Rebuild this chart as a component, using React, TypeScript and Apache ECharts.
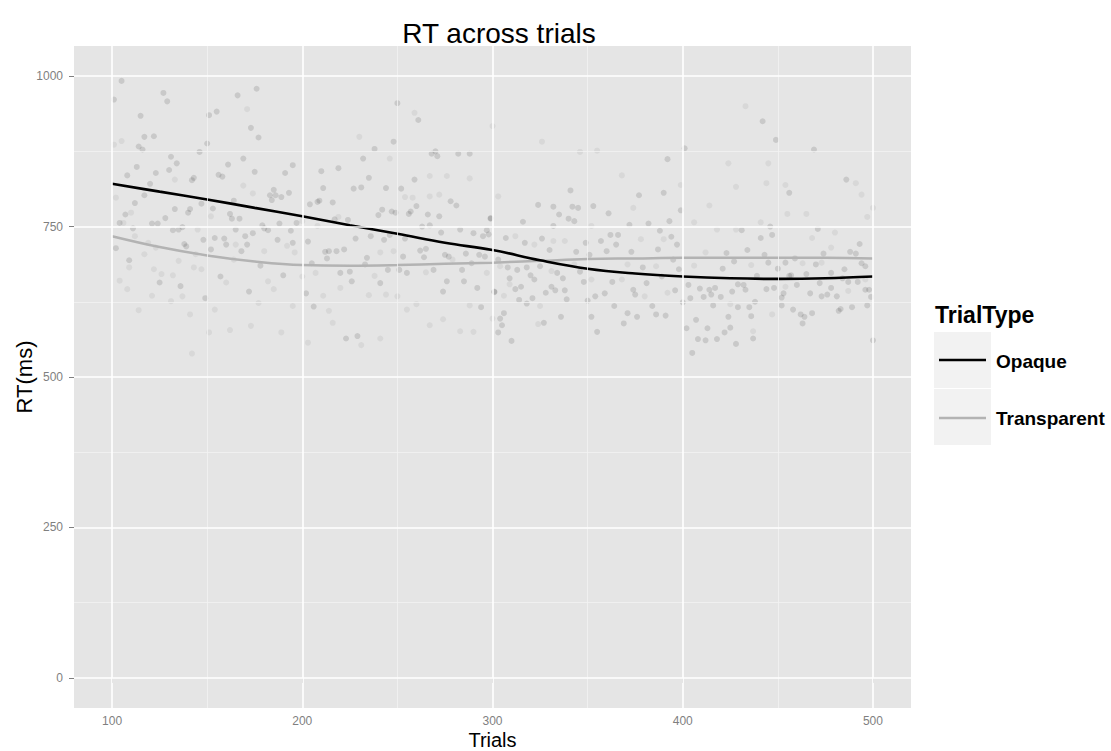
import React, { useEffect, useRef } from "react";
import * as echarts from "echarts";

const xTicks = [100, 200, 300, 400, 500];
const xMinor = [150, 250, 350, 450];
const yTicks = [0, 250, 500, 750, 1000];
const yMinor = [125, 375, 625, 875];

const smoothTrials = [100, 125, 150, 175, 200, 225, 250, 275, 300, 325, 350, 375, 400, 425, 450, 475, 500];
const opaqueSmooth = [821, 808, 795, 781, 767, 752, 738, 723, 711, 694, 680, 672, 667, 664, 663, 664, 667];
const transparentSmooth = [734, 716, 702, 692, 686, 685, 686, 688, 690, 693, 696, 697, 698, 698, 698, 698, 697];

const opaquePoints = [
  [101,961],[105,992],[127,972],[129,958],[115,934],[117,899],[122,900],[114,883],[116,878],[131,866],[134,855],[113,849],[108,835],[123,839],[130,844],[120,821],[117,802],[112,789],[107,770],[104,756],[111,747],[121,755],[124,755],[128,764],[132,744],[135,745],[137,749],[133,779],[140,773],[141,779],[142,827],[143,831],[146,874],[150,888],[151,935],[155,941],[166,968],[176,979],[173,914],[177,898],[169,863],[161,853],[156,836],[158,833],[175,841],[191,839],[195,852],[185,811],[183,802],[186,802],[184,794],[189,799],[193,806],[147,788],[153,780],[162,771],[163,763],[167,763],[164,793],[165,745],[179,752],[180,747],[182,744],[188,755],[197,756],[194,743],[195,723],[187,728],[174,739],[170,734],[171,720],[168,709],[160,720],[159,730],[154,731],[152,712],[148,728],[138,721],[139,717],[102,714],[109,694],[125,657],[136,651],[149,631],[157,667],[172,642],[190,669],[178,685],
  [250,955],[261,927],[248,891],[238,879],[232,863],[219,847],[210,842],[235,831],[227,813],[231,815],[211,814],[244,814],[252,813],[259,828],[268,871],[270,875],[271,867],[282,871],[288,871],[208,791],[209,793],[204,787],[216,790],[240,769],[242,778],[247,775],[249,773],[256,771],[257,775],[260,784],[266,770],[272,767],[278,792],[281,785],[263,750],[267,752],[273,740],[283,745],[290,739],[295,734],[297,744],[298,737],[299,763],[217,762],[224,761],[228,730],[236,734],[243,728],[246,736],[254,730],[203,725],[212,708],[214,709],[213,697],[218,709],[222,712],[234,698],[253,700],[262,710],[265,713],[264,699],[275,703],[277,700],[286,705],[293,703],[296,700],[205,689],[220,673],[225,675],[233,687],[245,678],[251,678],[255,673],[269,678],[284,678],[289,689],[226,659],[241,656],[276,659],[285,659],[274,642],[292,648],[301,641],[202,639],[206,617],[294,616],[223,564],[229,568],
  [401,880],[392,862],[390,806],[377,802],[399,777],[341,810],[324,786],[332,783],[342,783],[345,781],[353,784],[361,772],[335,770],[340,763],[343,759],[316,758],[332,751],[372,753],[382,755],[393,759],[388,743],[394,733],[397,720],[307,731],[317,723],[326,730],[349,723],[357,726],[362,736],[366,736],[365,720],[330,711],[344,708],[351,703],[360,709],[373,708],[387,712],[395,695],[303,695],[325,684],[308,682],[313,678],[318,682],[334,673],[346,675],[379,682],[398,679],[309,664],[320,669],[322,662],[337,664],[348,658],[363,658],[381,656],[389,667],[403,653],[301,642],[312,646],[315,650],[328,640],[331,650],[333,644],[338,644],[321,631],[318,622],[314,628],[339,629],[350,627],[354,634],[359,639],[374,645],[375,637],[396,644],[400,624],[364,618],[384,618],[386,604],[391,602],[371,606],[376,600],[352,600],[336,600],[306,606],[304,597],[305,586],[303,574],[310,560],[327,590],[369,589],[355,575],[402,581],[299,764],
  [442,925],[449,894],[469,878],[486,828],[456,806],[471,746],[431,744],[441,731],[446,750],[447,736],[493,721],[434,711],[423,706],[443,703],[488,708],[491,705],[427,692],[445,690],[454,690],[459,697],[474,705],[470,687],[494,689],[421,680],[450,680],[478,673],[485,679],[439,668],[456,668],[457,669],[465,671],[496,684],[409,647],[414,645],[417,648],[429,654],[432,653],[433,645],[444,646],[448,648],[453,639],[460,653],[467,639],[472,656],[473,634],[476,637],[478,648],[481,634],[484,664],[487,658],[492,658],[496,645],[498,645],[499,633],[404,631],[411,633],[415,637],[420,633],[426,642],[438,625],[452,632],[416,619],[429,616],[435,616],[436,601],[424,600],[452,619],[458,612],[462,604],[464,600],[468,606],[482,610],[483,613],[489,616],[497,619],[463,589],[407,595],[413,581],[425,582],[422,574],[408,563],[412,561],[418,563],[428,555],[437,564],[405,540],[500,561]
];

const transparentPoints = [
  [101,886],[105,892],[102,798],[110,773],[112,734],[119,723],[108,646],[104,660],[114,611],[121,635],[131,626],[141,604],[142,539],[151,574],[154,612],[162,578],[173,585],[189,574],[177,623],[185,646],[182,659],[195,618],[196,707],[192,718],[180,709],[165,720],[143,682],[147,679],[137,634],[126,671],[122,679],[132,669],[117,704],[123,715],[109,682],[106,756],[171,945],[133,828],[169,818],[174,805],[145,745],[152,767],[160,657],[164,695],[135,693],[144,704],
  [230,899],[246,863],[259,939],[288,830],[267,834],[276,834],[272,803],[267,800],[254,799],[258,798],[219,766],[208,751],[200,759],[248,709],[241,707],[250,634],[244,637],[235,636],[220,648],[211,635],[214,610],[216,590],[203,557],[231,553],[241,564],[267,586],[274,596],[283,576],[290,575],[288,619],[260,621],[255,612],[297,673],[300,597],[200,667],[207,673],[265,674],[279,695],[238,668],
  [300,917],[326,891],[346,874],[355,876],[368,835],[303,800],[399,819],[374,781],[352,751],[378,729],[390,729],[338,726],[322,720],[312,734],[332,726],[304,684],[331,676],[343,687],[371,687],[386,684],[309,654],[306,635],[325,618],[324,588],[368,662],[380,634],[392,640],[352,662],
  [433,950],[424,855],[445,855],[428,816],[444,822],[454,819],[491,822],[494,803],[414,785],[465,771],[455,771],[441,757],[406,757],[428,745],[468,731],[500,781],[497,766],[480,740],[418,745],[412,707],[436,686],[463,689],[478,715],[406,685],[454,650],[487,643],[496,662],[447,604],[437,576],[425,621],[473,690]
];

const FONT = "'Liberation Sans', Arial, Helvetica, sans-serif";

export default function App() {
  const ref = useRef<HTMLDivElement>(null);
  useEffect(() => {
    if (!ref.current) return;
    const chart = echarts.init(ref.current, null, { renderer: "svg" });
    const major = { color: "#ffffff", width: 1.6, type: "solid" };
    const minor = { color: "#f2f2f2", width: 0.8, type: "solid" };
    const gridLines = [
      ...xMinor.map((v) => ({ xAxis: v, lineStyle: minor })),
      ...yMinor.map((v) => ({ yAxis: v, lineStyle: minor })),
      ...xTicks.map((v) => ({ xAxis: v, lineStyle: major })),
      ...yTicks.map((v) => ({ yAxis: v, lineStyle: major })),
    ];
    chart.setOption({
      animation: false,
      backgroundColor: "#ffffff",
      textStyle: { fontFamily: FONT },
      title: {
        text: "RT across trials",
        left: 494,
        top: 14,
        textAlign: "center",
        textStyle: { fontFamily: FONT, fontSize: 28, fontWeight: "normal", color: "#000" },
      },
      grid: {
        left: 74,
        top: 46,
        right: 200,
        bottom: 43,
        containLabel: false,
        outerBoundsMode: "none",
        show: true,
        backgroundColor: "#e5e5e5",
        borderWidth: 0,
      },
      xAxis: {
        type: "value",
        min: 80,
        max: 520,
        name: "Trials",
        nameLocation: "middle",
        nameGap: 22,
        nameMoveOverlap: false,
        nameTextStyle: { fontFamily: FONT, fontSize: 20, color: "#000" },
        axisLine: { show: false },
        axisTick: { show: true, length: 5, customValues: xTicks, lineStyle: { color: "#7f7f7f", width: 1 } },
        axisLabel: { customValues: xTicks, margin: 7, fontSize: 12, color: "#7f7f7f", fontFamily: FONT, formatter: (v: number) => String(v) },
        splitLine: { show: false },
      },
      yAxis: {
        type: "value",
        min: -50,
        max: 1050,
        name: "RT(ms)",
        nameLocation: "middle",
        nameGap: 39,
        nameRotate: 90,
        nameMoveOverlap: false,
        nameTextStyle: { fontFamily: FONT, fontSize: 22, color: "#000" },
        axisLine: { show: false },
        axisTick: { show: true, length: 5, customValues: yTicks, lineStyle: { color: "#7f7f7f", width: 1 } },
        axisLabel: { customValues: yTicks, margin: 11, fontSize: 12, color: "#7f7f7f", fontFamily: FONT, formatter: (v: number) => String(v) },
        splitLine: { show: false },
      },
      series: [
        {
          type: "line",
          name: "grid",
          data: [[80, -50]],
          showSymbol: false,
          symbol: "none",
          lineStyle: { opacity: 0 },
          silent: true,
          z: 1,
          markLine: {
            silent: true,
            symbol: ["none", "none"],
            label: { show: false },
            data: gridLines,
            animation: false,
          },
        },
        {
          type: "scatter",
          name: "Transparent points",
          data: transparentPoints,
          symbol: "circle",
          symbolSize: 6,
          itemStyle: { color: "rgba(150,150,150,0.2)" },
          z: 2,
        },
        {
          type: "scatter",
          name: "Opaque points",
          data: opaquePoints,
          symbol: "circle",
          symbolSize: 6,
          itemStyle: { color: "rgba(0,0,0,0.15)" },
          z: 2,
        },
        {
          type: "line",
          name: "Transparent",
          data: smoothTrials.map((t, i) => [t, transparentSmooth[i]]),
          smooth: 0.4,
          showSymbol: false,
          symbol: "none",
          lineStyle: { color: "#b3b3b3", width: 2.5 },
          z: 3,
        },
        {
          type: "line",
          name: "Opaque",
          data: smoothTrials.map((t, i) => [t, opaqueSmooth[i]]),
          smooth: 0.4,
          showSymbol: false,
          symbol: "none",
          lineStyle: { color: "#000000", width: 2.6 },
          z: 4,
        },
      ],
      graphic: [
        {
          type: "text",
          x: 935,
          y: 315,
          style: { text: "TrialType", font: `bold 23px ${FONT}`, fill: "#000", align: "left", verticalAlign: "middle" },
        },
        { type: "rect", shape: { x: 934, y: 332, width: 57, height: 56 }, style: { fill: "#f2f2f2" } },
        { type: "rect", shape: { x: 934, y: 389, width: 57, height: 56 }, style: { fill: "#f2f2f2" } },
        { type: "line", shape: { x1: 939, y1: 360, x2: 986, y2: 360 }, style: { stroke: "#000000", lineWidth: 2.5 } },
        { type: "line", shape: { x1: 939, y1: 418, x2: 986, y2: 418 }, style: { stroke: "#b3b3b3", lineWidth: 2.5 } },
        {
          type: "text",
          x: 996,
          y: 361,
          style: { text: "Opaque", font: `bold 19px ${FONT}`, fill: "#000", align: "left", verticalAlign: "middle" },
        },
        {
          type: "text",
          x: 996,
          y: 418,
          style: { text: "Transparent", font: `bold 19px ${FONT}`, fill: "#000", align: "left", verticalAlign: "middle" },
        },
      ],
    });
    return () => chart.dispose();
  }, []);
  return (
    <div
      ref={ref}
      style={{ position: "fixed", left: 0, top: 0, width: 1111, height: 751 }}
    />
  );
}
